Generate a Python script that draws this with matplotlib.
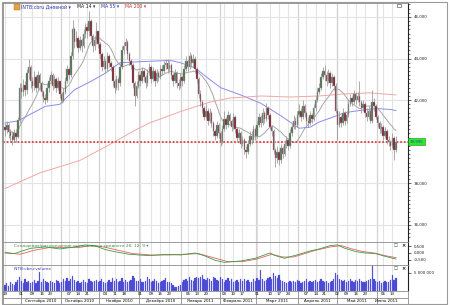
import numpy as np
import pandas as pd
import matplotlib
matplotlib.use('Agg')
from matplotlib import pyplot as plt
from matplotlib.patches import Rectangle

# daily prices (INTB:cbru)
closes = [
    40.55, 40.80, 40.45, 40.30, 40.10, 40.40, 40.25, 41.05, 42.60, 42.40,
    42.75, 42.50, 43.30, 43.60, 42.90, 42.70, 43.10, 42.60, 43.20, 42.80,
    42.40, 42.10, 42.00, 42.60, 42.90, 43.20, 42.70, 43.00, 42.60, 42.90,
    42.30, 41.95, 42.40, 42.90, 43.50, 43.20, 44.10, 45.40, 44.80, 45.00,
    44.50, 44.90, 44.60, 45.20, 45.50, 45.30, 45.80, 45.10, 44.60, 44.90,
    45.30, 44.70, 44.20, 43.60, 43.90, 43.50, 44.10, 43.80, 43.60, 42.90,
    42.60, 43.00, 42.80, 43.60, 44.40, 44.60, 44.80, 44.20, 43.90, 43.70,
    42.80, 42.20, 42.70, 43.20, 42.90, 43.40, 43.10, 42.80, 43.30, 43.60,
    43.00, 43.40, 42.90, 43.30, 43.10, 43.50, 43.40, 43.70, 43.80, 43.50,
    43.70, 43.20, 42.90, 43.30, 42.80, 42.70, 43.10, 42.90, 43.50, 43.90,
    43.60, 44.10, 43.80, 44.00, 43.50, 43.00, 42.30, 41.90, 41.60, 41.20,
    41.50, 41.00, 41.40, 40.90, 40.50, 40.30, 40.80, 40.40, 40.00, 40.60,
    41.10, 40.80, 41.30, 41.00, 40.70, 41.20, 40.60, 40.20, 40.40, 39.90,
    40.10, 39.60, 39.50, 39.90, 40.30, 40.10, 40.60, 40.30, 40.80, 41.20,
    40.90, 41.40, 41.10, 41.60, 41.30, 40.70, 40.50, 39.60, 39.20, 39.50,
    39.10, 39.70, 39.40, 39.90, 40.10, 39.80, 40.40, 40.70, 41.00, 40.80,
    41.30, 41.50, 41.20, 41.70, 41.40, 41.00, 40.90, 41.30, 41.10, 41.60,
    42.00, 42.40, 42.60, 43.10, 43.40, 43.20, 42.90, 43.30, 42.80, 43.10,
    42.70, 41.50, 40.80, 41.20, 40.90, 41.40, 41.00, 41.30, 41.80, 42.10,
    41.90, 42.30, 42.00, 42.20, 41.90, 41.60, 41.80, 41.40, 41.20, 41.50,
    41.00, 41.90, 41.70, 41.20, 40.90, 40.60, 40.70, 40.30, 40.50, 40.10,
    40.00, 39.80, 40.20, 39.60, 39.995,
]
highs = [
    40.9, 41.0, 40.9, 40.6, 40.5, 40.6, 40.6, 41.2, 42.8, 42.8,
    43.0, 42.9, 43.5, 44.0, 43.7, 43.1, 43.4, 43.2, 43.4, 43.3,
    42.9, 42.5, 42.3, 42.8, 43.1, 43.4, 43.3, 43.2, 43.1, 43.1,
    42.9, 42.4, 42.6, 43.1, 43.7, 43.6, 44.3, 45.85, 45.5, 45.3,
    45.1, 45.1, 45.0, 45.4, 45.7, 45.7, 46.3, 45.9, 45.2, 45.1,
    45.75, 45.3, 44.8, 44.3, 44.1, 44.0, 44.3, 44.2, 43.9, 43.7,
    43.0, 43.2, 43.1, 43.8, 44.6, 44.8, 45.0, 44.9, 44.3, 44.0,
    43.8, 42.9, 42.9, 43.4, 43.3, 43.6, 43.5, 43.2, 43.5, 43.8,
    43.7, 43.6, 43.5, 43.5, 43.4, 43.7, 43.7, 43.9, 44.0, 44.0,
    43.9, 43.8, 43.3, 43.5, 43.4, 43.0, 43.3, 43.2, 43.7, 44.1,
    44.0, 44.3, 44.2, 44.2, 44.1, 43.6, 43.1, 42.5, 42.0, 41.7,
    41.8, 41.6, 41.6, 41.5, 41.0, 40.6, 41.0, 40.9, 40.5, 40.8,
    41.5, 41.2, 41.5, 41.4, 41.1, 41.4, 41.3, 40.7, 40.6, 40.5,
    40.3, 40.2, 39.8, 40.1, 40.5, 40.5, 40.8, 40.7, 41.0, 41.4,
    41.3, 41.6, 41.5, 41.85, 41.7, 41.4, 40.8, 40.6, 39.7, 39.8,
    39.6, 39.9, 39.8, 40.1, 40.3, 40.2, 40.6, 40.9, 41.3, 41.2,
    41.5, 41.8, 41.6, 42.0, 41.8, 41.5, 41.2, 41.5, 41.4, 41.8,
    42.2, 42.6, 42.8, 43.3, 43.6, 43.7, 43.4, 43.5, 43.4, 43.3,
    43.2, 42.8, 41.6, 41.5, 41.3, 41.6, 41.5, 41.5, 42.0, 42.3,
    42.2, 42.5, 42.4, 42.4, 42.9, 42.0, 42.0, 41.9, 41.6, 41.7,
    41.6, 42.5, 42.1, 41.8, 41.3, 41.0, 40.9, 40.8, 40.7, 40.6,
    40.3, 40.1, 40.4, 40.3, 40.3,
]
lows = [
    40.3, 40.4, 40.2, 40.0, 39.85, 40.0, 40.0, 40.2, 40.9, 42.1,
    42.2, 42.2, 42.3, 43.0, 42.6, 42.4, 42.5, 42.4, 42.5, 42.5,
    42.2, 41.9, 41.8, 41.9, 42.4, 42.8, 42.5, 42.6, 42.4, 42.5,
    42.1, 41.85, 41.9, 42.3, 42.8, 43.0, 43.1, 44.0, 44.5, 44.6,
    44.3, 44.4, 44.3, 44.5, 45.0, 45.0, 45.1, 44.9, 44.3, 44.4,
    44.7, 44.5, 44.0, 43.4, 43.5, 43.3, 43.4, 43.6, 43.4, 42.7,
    42.35, 42.5, 42.5, 42.7, 43.5, 44.2, 44.4, 44.0, 43.7, 43.5,
    42.6, 41.7, 42.1, 42.6, 42.7, 42.8, 42.9, 42.6, 42.7, 43.2,
    42.8, 42.9, 42.7, 42.8, 42.9, 43.0, 43.2, 43.3, 43.5, 43.3,
    43.4, 43.0, 42.7, 42.8, 42.6, 42.5, 42.6, 42.7, 42.8, 43.4,
    43.4, 43.5, 43.6, 43.6, 43.3, 42.8, 42.1, 41.7, 41.4, 41.05,
    41.1, 40.8, 40.9, 40.7, 40.3, 40.1, 40.2, 40.2, 39.8, 39.9,
    40.5, 40.6, 40.7, 40.8, 40.5, 40.6, 40.4, 40.0, 40.1, 39.7,
    39.8, 39.4, 39.2, 39.4, 39.8, 39.9, 40.0, 40.1, 40.2, 40.7,
    40.7, 40.8, 40.9, 41.0, 41.1, 40.6, 40.3, 39.4, 38.8, 39.0,
    38.9, 39.0, 39.2, 39.3, 39.7, 39.6, 39.7, 40.3, 40.6, 40.6,
    40.7, 41.2, 41.0, 41.1, 41.2, 40.8, 40.7, 40.8, 40.9, 41.0,
    41.5, 41.9, 42.3, 42.5, 43.0, 42.9, 42.7, 42.8, 42.6, 42.7,
    42.5, 41.4, 40.1, 40.7, 40.7, 40.8, 40.8, 40.9, 41.2, 41.7,
    41.7, 41.8, 41.8, 41.9, 41.7, 41.4, 41.5, 41.2, 41.0, 41.1,
    40.9, 40.9, 41.5, 41.1, 40.7, 40.4, 40.4, 40.1, 40.2, 39.9,
    39.8, 39.6, 39.7, 39.1, 39.5,
]
# volume, millions
volume_m = [
    1.8, 2.2, 1.5, 2.4, 2.0, 1.7, 2.6, 3.1, 4.0, 2.9,
    2.3, 3.4, 2.6, 2.9, 2.1, 2.4, 3.0, 2.2, 2.7, 5.3,
    2.5, 3.2, 2.8, 2.4, 2.1, 2.9, 2.6, 2.3, 3.1, 2.8,
    2.2, 2.5, 3.4, 2.9, 3.6, 2.7, 3.2, 4.1, 3.0, 2.6,
    2.8, 2.2, 2.4, 3.0, 2.6, 2.3, 3.4, 2.9, 2.5, 2.7,
    3.1, 2.4, 2.8, 3.3, 2.6, 2.2, 2.5, 3.0, 2.4, 3.6,
    2.8, 3.2, 2.5, 2.9, 3.5, 2.6, 3.0, 2.4, 2.7, 3.1,
    4.2, 3.5, 2.7, 2.9, 3.3, 2.5, 2.4, 2.8, 3.9, 3.2,
    2.6, 2.9, 3.4, 2.7, 2.3, 2.5, 2.8, 3.0, 3.6, 2.6,
    2.4, 2.2, 1.7, 1.2, 1.0, 1.4, 1.8, 2.5, 3.0, 3.4,
    2.7, 3.8, 3.1, 2.9, 3.5, 4.0, 3.6, 3.9, 4.3, 3.4,
    3.0, 3.7, 3.2, 2.8, 4.0, 3.5, 3.1, 2.7, 3.8, 3.3,
    2.6, 3.0, 3.6, 2.9, 3.2, 2.5, 2.8, 3.1, 2.6, 3.4,
    2.9, 3.3, 2.7, 3.0, 2.6, 2.4, 3.2, 2.8, 3.5, 3.0,
    5.7, 3.3, 2.8, 3.1, 3.6, 3.9, 3.4, 5.1, 4.2, 3.6,
    4.5, 3.0, 2.7, 2.4, 2.2, 2.6, 2.9, 2.4, 2.8, 2.5,
    3.0, 2.7, 2.3, 2.6, 2.9, 3.2, 2.5, 2.8, 2.4, 2.7,
    3.1, 2.6, 2.9, 3.3, 2.7, 2.5, 2.8, 2.3, 2.6, 2.9,
    3.2, 5.0, 4.3, 3.4, 3.0, 2.7, 3.1, 2.6, 2.9, 3.4,
    2.8, 2.5, 3.0, 2.7, 3.3, 2.9, 2.6, 2.4, 2.8, 3.0,
    3.2, 6.8, 3.4, 2.9, 2.6, 2.8, 2.3, 2.5, 2.9, 2.6,
    2.4, 3.0, 4.4, 3.1, 3.5,
]

# moving averages with long history (read at trading-day numbers)
ma55_day = [0, 7, 22, 30, 38, 47, 55, 63, 74, 88, 91, 96, 104, 109, 118, 129,
            140, 151, 161, 167, 172, 180, 186, 194, 203, 211, 214]
ma55_val = [40.9, 41.0, 41.7, 41.8, 42.5, 42.9, 43.3, 43.8, 43.85, 43.9, 43.9, 43.8,
            43.55, 43.2, 42.6, 42.25, 41.85, 41.25, 40.65, 40.7, 40.95, 41.2, 41.4,
            41.5, 41.6, 41.55, 41.5]
ma200_day = [0, 19, 41, 57, 71, 79, 96, 112, 123, 140, 156, 172, 186, 200, 214]
ma200_val = [37.75, 38.5, 39.1, 39.85, 40.55, 40.9, 41.45, 41.9, 42.1, 42.2, 42.15,
             42.2, 42.3, 42.35, 42.25]

macd_day = [0, 5, 14, 22, 30, 38, 44, 49, 55, 60, 68, 79, 88, 96, 104, 109, 115,
            120, 129, 137, 145, 148, 153, 161, 167, 172, 178, 182, 186, 192, 197,
            203, 208, 214]
macd_val = [0.0, -0.05, 0.35, 0.45, 0.3, 0.45, 0.6, 0.55, 0.25, 0.1, -0.1, -0.2,
            -0.1, -0.15, 0.0, -0.2, -0.55, -0.7, -0.6, -0.4, 0.0, -0.2, -0.4, -0.1,
            0.15, 0.3, 0.55, 0.6, 0.35, 0.1, 0.0, -0.05, -0.25, -0.45]
signal_day = [0, 8, 16, 24, 32, 40, 47, 54, 62, 70, 80, 90, 98, 106, 114, 122, 130,
              138, 146, 152, 158, 164, 170, 178, 184, 190, 196, 202, 208, 214]
signal_val = [0.05, -0.1, 0.2, 0.4, 0.4, 0.4, 0.55, 0.45, 0.2, -0.05, -0.15, -0.15,
              -0.1, -0.05, -0.35, -0.65, -0.65, -0.45, -0.1, -0.3, -0.3, -0.05, 0.2,
              0.45, 0.55, 0.3, 0.1, 0.0, -0.2, -0.35]

week_labels = ['2010-08-19', '2010-09-01', '2010-09-09', '2010-09-16', '2010-09-23',
               '2010-10-07', '2010-10-14', '2010-10-21', '2010-11-04', '2010-11-11',
               '2010-11-18', '2010-12-01', '2010-12-09', '2010-12-16', '2010-12-23',
               '2011-01-06', '2011-01-13', '2011-01-20', '2011-02-03', '2011-02-10',
               '2011-02-17', '2011-03-01', '2011-03-10', '2011-03-17', '2011-03-24',
               '2011-04-07', '2011-04-14', '2011-04-21', '2011-05-02', '2011-05-09',
               '2011-05-16', '2011-05-23', '2011-06-06', '2011-06-13']
month_names = ['Сентябрь 2010', 'Октябрь 2010', 'Ноябрь 2010', 'Декабрь 2010',
               'Январь 2011', 'Февраль 2011', 'Март 2011', 'Апрель 2011',
               'Май 2011', 'Июнь 2011']
price_ticks = [36, 38, 42, 44, 46]
last_price = 39.995

days = pd.bdate_range('2010-08-19', '2011-06-15')
n = len(days)
x = np.arange(n)
closes = np.array(closes)
opens = np.r_[40.70, closes[:-1]]
highs = np.maximum(highs, np.maximum(opens, closes))
lows = np.minimum(lows, np.minimum(opens, closes))
up = closes >= opens
ma14 = pd.Series(closes).rolling(14, min_periods=1).mean()

wk = [days.get_loc(pd.Timestamp(d)) for d in week_labels]
month_start = [i for i in range(1, n) if days[i].month != days[i - 1].month]

W, H = 450, 305
fig = plt.figure(figsize=(4.5, 3.05), dpi=100)


def box(x0, y0, x1, y1):
    return [x0 / W, 1 - y1 / H, (x1 - x0) / W, (y1 - y0) / H]


def ftext(px, py, s, **kw):
    fig.text(px / W, 1 - py / H, s, **kw)


ax = fig.add_axes(box(3, 3, 408, 242))
ax_macd = fig.add_axes(box(3, 242, 408, 265), sharex=ax)
ax_vol = fig.add_axes(box(3, 265, 408, 291), sharex=ax)
ax_date = fig.add_axes(box(3, 291, 408, 304), sharex=ax)

for a in (ax, ax_macd, ax_vol):
    for p in wk:
        a.axvline(p, color='#e3e3e3', lw=0.8, zorder=0)
    for m in month_start:
        a.axvline(m - 0.5, color='#d2d2d2', lw=0.9, zorder=0)
    for s in a.spines.values():
        s.set_color('#8c8c8c')
        s.set_linewidth(0.6)
    a.spines['right'].set_color('#202020')
    a.spines['right'].set_linewidth(0.8)
    a.yaxis.tick_right()
    a.tick_params(axis='x', bottom=False, labelbottom=False)
    a.tick_params(axis='y', direction='out', length=2.5, width=0.5, pad=1.5,
                  labelsize=2.9, colors='#202020')

ax.set_xlim(-1.1, 220.6)

# main price panel
ax.set_ylim(35.18, 46.67)
ax.set_yticks(price_ticks)
ax.set_yticklabels([f'{v:.3f}'.replace('.', ',') for v in price_ticks])
ax.set_yticks(np.arange(35.4, 46.6, 0.2), minor=True)
ax.tick_params(axis='y', which='minor', direction='out', length=1.2, width=0.4)
ax.grid(axis='y', which='major', color='#e3e3e3', lw=0.8, zorder=0)
ax.axhline(40, color='#e3e3e3', lw=0.8, zorder=0)

ax.plot(x, ma14, color='#a6a6a6', lw=0.7, zorder=2)
ax.plot(ma55_day, ma55_val, color='#8c8cec', lw=0.7, zorder=2)
ax.plot(ma200_day, ma200_val, color='#f2a6a6', lw=0.7, zorder=2)
ax.axhline(last_price, color='#e04040', lw=1.3, ls=(0, (1, 1)), zorder=2)

ax.vlines(x, lows, highs, color='#9c9c9c', lw=0.6, zorder=3)
ax.bar(x[up], (closes - opens)[up], bottom=opens[up], width=0.8,
       color='#4d6e4f', edgecolor='#a0a0a0', lw=0.3, zorder=4)
ax.bar(x[~up], (closes - opens)[~up], bottom=opens[~up], width=0.8,
       color='#7c1c2a', edgecolor='#a0a0a0', lw=0.3, zorder=4)

ax.text(1.004, last_price, '39,995', transform=ax.get_yaxis_transform(),
        fontsize=2.9, color='#2a4a90', ha='left', va='center', zorder=6,
        bbox=dict(boxstyle='square,pad=0.35', fc='#2ee82e', ec='#159015', lw=0.4))

# MACD panel
ax_macd.plot(signal_day, signal_val, color='#e46060', lw=0.6)
ax_macd.plot(macd_day, macd_val, color='#3c9a4a', lw=0.6)
ax_macd.set_ylim(-0.9, 0.82)
ax_macd.set_yticks([0.5, 0.0, -0.5])
ax_macd.set_yticklabels(['0,500', '0,000', '-0,500'])

# volume panel
ax_vol.bar(x, volume_m, width=0.7, color='#4040d0', edgecolor='#7a7ae8', lw=0.2)
ax_vol.set_ylim(0, 7.2)
ax_vol.set_yticks([5])
ax_vol.set_yticklabels(['5 000 000'])

# date strip
ax_date.set_ylim(0, 2)
ax_date.set_yticks([])
ax_date.tick_params(axis='x', bottom=False, labelbottom=False)
for s in ax_date.spines.values():
    s.set_color('#8c8c8c')
    s.set_linewidth(0.6)
ax_date.axhline(1, color='#8c8c8c', lw=0.6)
for m in month_start:
    ax_date.axvline(m - 0.5, color='#8c8c8c', lw=0.6)
for p, d in zip(wk, week_labels):
    ax_date.text(p, 1.5, d[-2:], fontsize=2.8, ha='center', va='center')
bounds = month_start + [n]
for name, a, b in zip(month_names, bounds[:-1], bounds[1:]):
    ax_date.text((a + b - 1) / 2, 0.5, name, fontsize=2.9, ha='center', va='center')

# header texts and small icons
fig.patches.append(Rectangle((14 / W, 1 - 10 / H), 6 / W, 6 / H, transform=fig.transFigure,
                             fc='#e2a445', ec='#a07020', lw=0.3))
ftext(21, 6.5, 'INTB:cbru Дневной ▾', fontsize=3.4, color='#3434b0', va='center')
ftext(77, 6.5, 'MA 14 ▾', fontsize=3.3, color='#202020', va='center')
ftext(101, 6.5, 'MA 55 ▾', fontsize=3.3, color='#3434c8', va='center')
ftext(125, 6.5, 'MA 200 ▾', fontsize=3.3, color='#d03030', va='center')
fig.patches.append(Rectangle((397 / W, 1 - 7 / H), 4 / W, 3 / H, transform=fig.transFigure,
                             fc='white', ec='#404040', lw=0.4))
ftext(14, 245.5, 'Схождение/расхождение скользящего среднего 26; 12; 9 ▾',
      fontsize=3.1, color='#3a8a3a', va='center')
ftext(14, 269, 'INTB:cbru:volume', fontsize=3.1, color='#3a3ac0', va='center')
for py in (245.5, 268.5):
    ftext(396, py, '□', fontsize=3.0, color='#303030', va='center', ha='center')
    ftext(403, py, '×', fontsize=3.6, color='#101010', va='center', ha='center',
          fontweight='bold')

# outer frame
fig.patches.append(Rectangle((2 / W, 1 - 304 / H), 445 / W, 302 / H, transform=fig.transFigure,
                             fc='none', ec='#9a9a9a', lw=0.8))

fig.savefig('out.png', dpi=100)
